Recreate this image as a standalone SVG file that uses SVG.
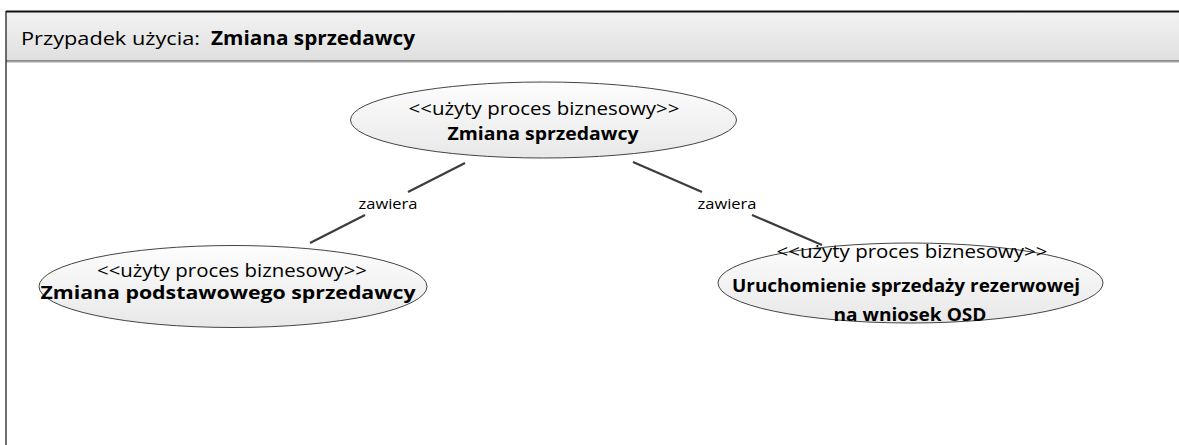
<svg xmlns="http://www.w3.org/2000/svg" width="1179" height="445" viewBox="0 0 1179 445">
<style>
.t{font-family:"Open Sans","Noto Sans","Liberation Sans",sans-serif;fill:#000}
.st{font-size:18px}
.b{font-size:18px;font-weight:bold}
.lbl{font-family:"Open Sans","Noto Sans","Liberation Sans",sans-serif;font-size:14px;fill:#000}
.uc{fill:url(#eg);stroke:#444;stroke-width:1}
.conn{stroke:#3c3c3c;stroke-width:2.2;fill:none}
</style>
<defs>
<linearGradient id="hg" x1="0" y1="0" x2="0" y2="1">
<stop offset="0" stop-color="#f3f3f3"/>
<stop offset="1" stop-color="#dfdfdf"/>
</linearGradient>
<linearGradient id="eg" x1="0" y1="0" x2="0" y2="1">
<stop offset="0" stop-color="#fdfdfd"/>
<stop offset="1" stop-color="#e8e8e8"/>
</linearGradient>
</defs>
<rect width="1179" height="445" fill="#fff"/>
<g id="frame">
<rect x="6" y="11.5" width="1175" height="49.5" fill="url(#hg)"/>
<line x1="6" y1="11.5" x2="1179" y2="11.5" stroke="#111" stroke-width="2"/>
<line x1="6" y1="61" x2="1179" y2="61" stroke="#333" stroke-width="1.2"/>
<line x1="6" y1="62.2" x2="1179" y2="62.2" stroke="#bbb" stroke-width="1"/>
<line x1="6" y1="11" x2="6" y2="445" stroke="#111" stroke-width="1.2"/>
<text class="t" x="21" y="45" font-size="19" textLength="179" lengthAdjust="spacingAndGlyphs">Przypadek użycia:</text>
<text class="t" x="211" y="45" font-size="19" font-weight="bold" textLength="204" lengthAdjust="spacingAndGlyphs">Zmiana sprzedawcy</text>
</g>
<g id="uc-main">
<ellipse class="uc" cx="543.5" cy="120" rx="193" ry="38"/>
<text class="t st" x="544" y="115" text-anchor="middle" textLength="271" lengthAdjust="spacingAndGlyphs">&lt;&lt;użyty proces biznesowy&gt;&gt;</text>
<text class="t b" x="543" y="140" text-anchor="middle" textLength="191" lengthAdjust="spacingAndGlyphs">Zmiana sprzedawcy</text>
</g>
<g id="uc-left">
<ellipse class="uc" cx="233" cy="286.5" rx="194" ry="41"/>
<text class="t st" x="232" y="277" text-anchor="middle" textLength="270" lengthAdjust="spacingAndGlyphs">&lt;&lt;użyty proces biznesowy&gt;&gt;</text>
<text class="t b" x="228" y="299" text-anchor="middle" textLength="375" lengthAdjust="spacingAndGlyphs">Zmiana podstawowego sprzedawcy</text>
</g>
<g id="uc-right">
<ellipse class="uc" cx="910.5" cy="283" rx="192.5" ry="40"/>
<text class="t st" x="912" y="258" text-anchor="middle" textLength="271" lengthAdjust="spacingAndGlyphs">&lt;&lt;użyty proces biznesowy&gt;&gt;</text>
<text class="t b" x="906" y="292" text-anchor="middle" textLength="348" lengthAdjust="spacingAndGlyphs">Uruchomienie sprzedaży rezerwowej</text>
<text class="t b" x="910" y="321" text-anchor="middle" textLength="153" lengthAdjust="spacingAndGlyphs">na wniosek OSD</text>
</g>
<g id="connectors">
<line class="conn" x1="465" y1="163" x2="408" y2="192"/>
<line class="conn" x1="365" y1="215" x2="310" y2="243"/>
<text class="lbl" x="388" y="209" text-anchor="middle" textLength="59" lengthAdjust="spacingAndGlyphs">zawiera</text>
<line class="conn" x1="633" y1="162" x2="702" y2="192"/>
<line class="conn" x1="752" y1="215" x2="822" y2="245"/>
<text class="lbl" x="727" y="209" text-anchor="middle" textLength="59" lengthAdjust="spacingAndGlyphs">zawiera</text>
</g>
</svg>
